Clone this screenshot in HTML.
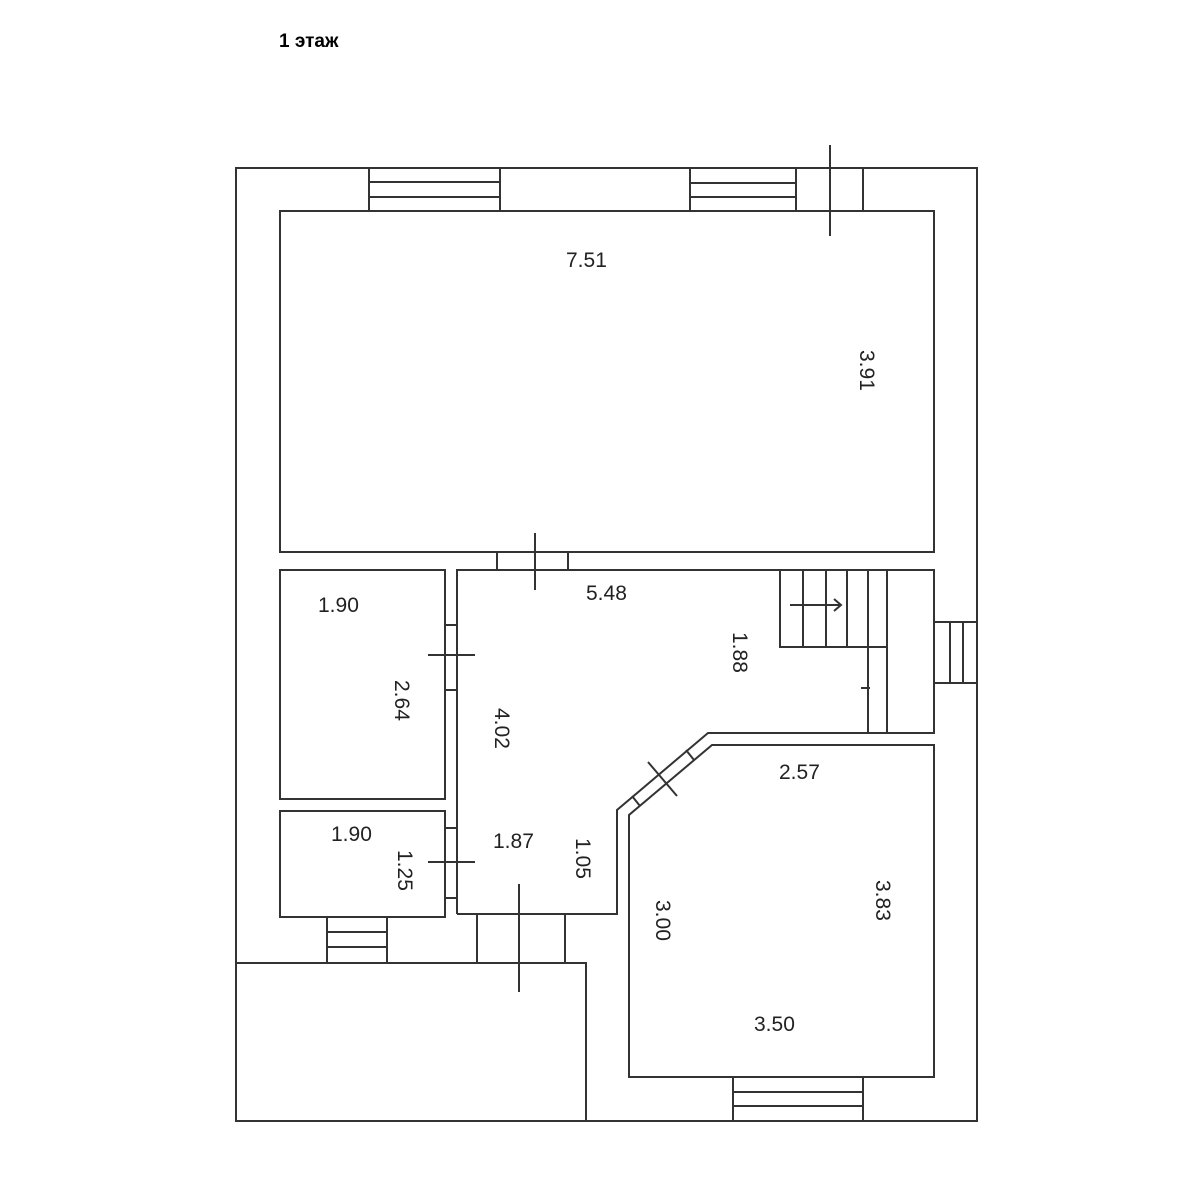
<!DOCTYPE html>
<html><head><meta charset="utf-8"><style>
html,body{margin:0;padding:0;background:#fff;}
svg{display:block;}
text{font-family:"Liberation Sans",Arial,sans-serif;fill:#222;font-size:21px;}
</style></head><body>
<svg width="1200" height="1200" viewBox="0 0 1200 1200" xmlns="http://www.w3.org/2000/svg">
<rect width="1200" height="1200" fill="#fff"/>
<text x="279" y="47" style="font-size:19px;font-weight:bold;fill:#000">1 этаж</text>
<g fill="none" stroke="#333" stroke-width="2">
<polyline points="236,963 236,168 977,168 977,1121 236,1121 236,963 586,963 586,1121"/>
<rect x="280" y="211" width="654" height="341"/>
<line x1="369" y1="168" x2="369" y2="211"/><line x1="500" y1="168" x2="500" y2="211"/>
<line x1="369" y1="182" x2="500" y2="182"/><line x1="369" y1="197" x2="500" y2="197"/>
<line x1="690" y1="168" x2="690" y2="211"/><line x1="796" y1="168" x2="796" y2="211"/>
<line x1="690" y1="183" x2="796" y2="183"/><line x1="690" y1="197" x2="796" y2="197"/>
<line x1="830" y1="145" x2="830" y2="236"/><line x1="863" y1="168" x2="863" y2="211"/>
<rect x="280" y="570" width="165" height="229"/>
<rect x="280" y="811" width="165" height="106"/>
<polyline points="457,914 457,570 934,570 934,733 708,733 617,810 617,914 457,914"/>
<polygon points="712,745 934,745 934,1077 629,1077 629,815"/>
<line x1="497" y1="552" x2="497" y2="570"/><line x1="568" y1="552" x2="568" y2="570"/>
<line x1="535" y1="533" x2="535" y2="590"/>
<polyline points="780,570 780,647 887,647"/>
<line x1="803" y1="570" x2="803" y2="647"/><line x1="826" y1="570" x2="826" y2="647"/>
<line x1="847" y1="570" x2="847" y2="647"/>
<line x1="868" y1="570" x2="868" y2="733"/><line x1="887" y1="570" x2="887" y2="733"/>
<line x1="790" y1="605" x2="840" y2="605"/><polyline points="834,599 841,605 834,611"/>
<line x1="861" y1="688" x2="870" y2="688"/>
<line x1="934" y1="622" x2="977" y2="622"/><line x1="934" y1="683" x2="977" y2="683"/>
<line x1="950" y1="622" x2="950" y2="683"/><line x1="963" y1="622" x2="963" y2="683"/>
<line x1="632" y1="796" x2="640" y2="806"/><line x1="686" y1="750" x2="694" y2="760"/>
<line x1="648" y1="762" x2="677" y2="796"/>
<line x1="445" y1="625" x2="457" y2="625"/><line x1="445" y1="690" x2="457" y2="690"/>
<line x1="428" y1="655" x2="475" y2="655"/>
<line x1="445" y1="828" x2="457" y2="828"/><line x1="445" y1="898" x2="457" y2="898"/>
<line x1="428" y1="862" x2="475" y2="862"/>
<line x1="327" y1="917" x2="327" y2="963"/><line x1="387" y1="917" x2="387" y2="963"/>
<line x1="327" y1="932" x2="387" y2="932"/><line x1="327" y1="947" x2="387" y2="947"/>
<line x1="477" y1="914" x2="477" y2="963"/><line x1="565" y1="914" x2="565" y2="963"/>
<line x1="519" y1="884" x2="519" y2="992"/>
<line x1="733" y1="1077" x2="733" y2="1121"/><line x1="863" y1="1077" x2="863" y2="1121"/>
<line x1="733" y1="1092" x2="863" y2="1092"/><line x1="733" y1="1106" x2="863" y2="1106"/>
</g>
<text x="566" y="267">7.51</text>
<text transform="translate(860,350) rotate(90)">3.91</text>
<text x="586" y="600">5.48</text>
<text transform="translate(733,632) rotate(90)">1.88</text>
<text x="318" y="612">1.90</text>
<text transform="translate(395,680) rotate(90)">2.64</text>
<text transform="translate(495,708) rotate(90)">4.02</text>
<text x="331" y="841">1.90</text>
<text transform="translate(398,850) rotate(90)">1.25</text>
<text x="493" y="848">1.87</text>
<text transform="translate(576,838) rotate(90)">1.05</text>
<text x="779" y="779">2.57</text>
<text transform="translate(656,900) rotate(90)">3.00</text>
<text transform="translate(876,880) rotate(90)">3.83</text>
<text x="754" y="1031">3.50</text>
</svg>
</body></html>
